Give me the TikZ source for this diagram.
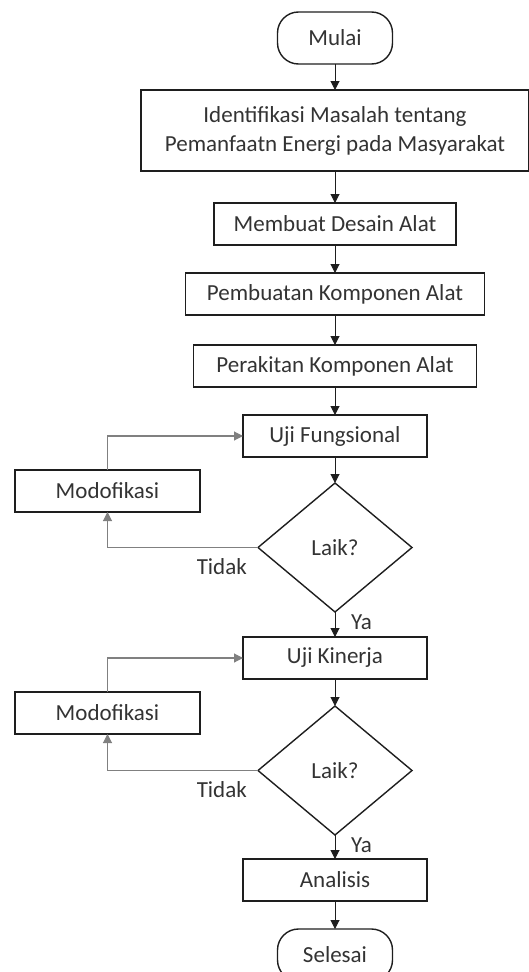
\documentclass[tikz,border=0pt]{standalone}
\usepackage{fontspec}
\setmainfont{Carlito}
\usetikzlibrary{arrows.meta,positioning,shapes.geometric,calc}
\definecolor{ftext}{HTML}{333333}
\definecolor{fline}{HTML}{1E1E1E}
\tikzset{
  fbase/.style  ={draw=fline, line width=1.4pt, align=center, inner sep=0pt, outer sep=0pt,
                  text=ftext, font=\fontsize{23}{29}\selectfont},
  fproc/.style  ={fbase, minimum height=42pt},
  fterm/.style  ={fbase, rounded corners=21pt, minimum width=115pt, minimum height=52pt},
  fdec/.style   ={fbase, diamond, minimum width=154pt, minimum height=129pt},
  farrow/.style ={-{Triangle[length=9pt,width=9pt]}, line width=1pt, draw=fline},
  fback/.style  ={-{Triangle[length=9pt,width=9pt]}, line width=1.1pt, draw=black!50},
  flabel/.style ={text=ftext, inner sep=1pt, font=\fontsize{23}{29}\selectfont},
}
\begin{document}
\begin{tikzpicture}[node distance=27pt]
  \useasboundingbox (0,0) rectangle (529pt,-972pt);

  % ---- awal ----
  \node[fterm] (mulai) at (335pt,-38pt) {Mulai};

  % ---- tahap pembuatan alat ----
  \node[fproc, minimum width=388pt, minimum height=81pt, below=26pt of mulai] (ident)
    {Identifikasi Masalah tentang\\Pemanfaatn Energi pada Masyarakat};
  \node[fproc, minimum width=242pt, below=32pt of ident] (desain) {Membuat Desain Alat};
  \node[fproc, minimum width=299pt, below=28pt of desain] (buat) {Pembuatan Komponen Alat};
  \node[fproc, minimum width=283pt, below=30pt of buat] (rakit) {Perakitan Komponen Alat};

  % ---- uji fungsional ----
  \node[fproc, minimum width=184pt, below=28pt of rakit] (ujifungsi) {Uji Fungsional};
  \node[fdec, below=26pt of ujifungsi] (laik1) {Laik?};
  \node[fproc, minimum width=185pt, below left=13pt and 43pt of ujifungsi] (mod1) {Modofikasi};
  \node[flabel, below left=10pt and 10pt of laik1.west] (tidak1) {Tidak};
  \node[flabel, below right=2pt and 15pt of laik1.south] (ya1) {Ya};

  % ---- uji kinerja ----
  \node[fproc, minimum width=184pt, below=25pt of laik1] (ujikinerja) {Uji Kinerja};
  \node[fdec, below=27pt of ujikinerja] (laik2) {Laik?};
  \node[fproc, minimum width=185pt, below left=13pt and 43pt of ujikinerja] (mod2) {Modofikasi};
  \node[flabel, below left=10pt and 10pt of laik2.west] (tidak2) {Tidak};
  \node[flabel, below right=2pt and 15pt of laik2.south] (ya2) {Ya};

  % ---- akhir ----
  \node[fproc, minimum width=184pt, below=24pt of laik2] (analisis) {Analisis};
  \node[fterm, below=28pt of analisis] (selesai) {Selesai};

  % ---- arrows ----
  \draw[farrow] (mulai) -- (ident);
  \draw[farrow] (ident) -- (desain);
  \draw[farrow] (desain) -- (buat);
  \draw[farrow] (buat) -- (rakit);
  \draw[farrow] (rakit) -- (ujifungsi);
  \draw[farrow] (ujifungsi) -- (laik1);
  \draw[farrow] (laik1) -- (ujikinerja);
  \draw[farrow] (ujikinerja) -- (laik2);
  \draw[farrow] (laik2) -- (analisis);
  \draw[farrow] (analisis) -- (selesai);

  \draw[fback] (laik1.west) -| (mod1.south);
  \draw[fback] (mod1.north) |- (ujifungsi.west);
  \draw[fback] (laik2.west) -| (mod2.south);
  \draw[fback] (mod2.north) |- (ujikinerja.west);

\end{tikzpicture}
\end{document}
